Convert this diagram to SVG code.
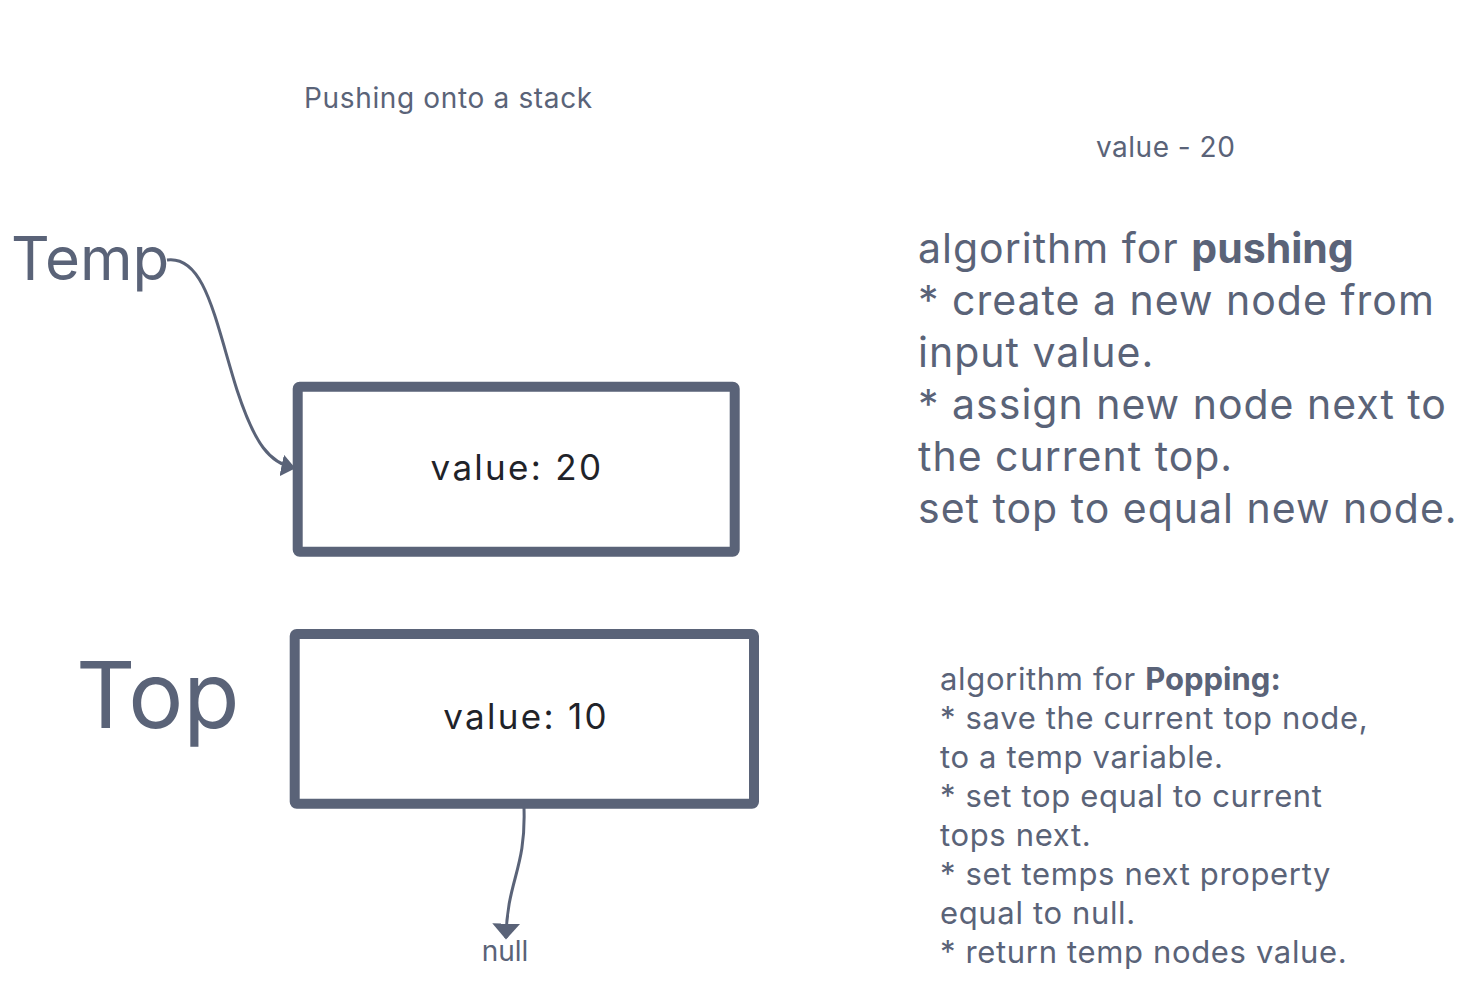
<svg xmlns="http://www.w3.org/2000/svg" width="1482" height="1006" viewBox="0 0 1482 1006">
<defs>
<style>
.t{font-family:Inter,"Noto Sans","Liberation Sans",sans-serif;fill:#5a6378}
.n{font-family:Inter,"Noto Sans","Liberation Sans",sans-serif;fill:#1f2329;font-size:35px;text-anchor:middle;letter-spacing:2.3px}
.box{fill:#fff;stroke:#5a6378;stroke-width:10;stroke-linejoin:round}
.c{fill:none;stroke:#5a6378;stroke-width:3}
.b{font-weight:bold;letter-spacing:0}
</style>
<marker id="ahT" viewBox="0 0 10 10" refX="9" refY="5" markerWidth="14" markerHeight="22" markerUnits="userSpaceOnUse" orient="auto" preserveAspectRatio="none">
<path d="M0,0 L10,5 L0,10 z" fill="#5a6378"/>
</marker>
<marker id="ahN" viewBox="0 0 10 10" refX="9" refY="5" markerWidth="16" markerHeight="28" markerUnits="userSpaceOnUse" orient="auto" preserveAspectRatio="none">
<path d="M0,0 L10,5 L0,10 z" fill="#5a6378"/>
</marker>
</defs>
<rect width="1482" height="1006" fill="#fff"/>
<g id="title"><text class="t" x="304" y="108" font-size="28" letter-spacing="0.65">Pushing onto a stack</text></g>
<g id="value-label"><text class="t" x="1096" y="157" font-size="28" letter-spacing="0.5">value - 20</text></g>
<g id="temp-label"><text class="t" x="11" y="280" font-size="60">Temp</text></g>
<g id="top-label"><text class="t" x="76" y="728" font-size="92">Top</text></g>
<g id="node20"><rect class="box" x="297.7" y="386.7" width="437" height="165" rx="2"/><text class="n" x="517" y="480">value: 20</text></g>
<g id="node10"><rect class="box" x="294.7" y="634" width="459.3" height="169.7" rx="2"/><text class="n" x="526" y="729">value: 10</text></g>
<g id="null-label"><text class="t" x="505" y="961" font-size="28" text-anchor="middle">null</text></g>
<g id="connectors">
<path class="c" d="M167,260 C205,255 215,320 237,390 C255,445 270,463 294,468" marker-end="url(#ahT)"/>
<path class="c" d="M524,808 C526,870 507,880 506,938" marker-end="url(#ahN)"/>
</g>
<g id="push-algo"><text class="t" font-size="41" letter-spacing="1">
<tspan x="918" y="263">algorithm for <tspan class="b">pushing</tspan></tspan>
<tspan x="918" y="315">* create a new node from</tspan>
<tspan x="918" y="367">input value.</tspan>
<tspan x="918" y="419">* assign new node next to</tspan>
<tspan x="918" y="471">the current top.</tspan>
<tspan x="918" y="523">set top to equal new node.</tspan>
</text></g>
<g id="pop-algo"><text class="t" font-size="31" letter-spacing="0.65">
<tspan x="940" y="690">algorithm for <tspan class="b">Popping:</tspan></tspan>
<tspan x="940" y="729">* save the current top node,</tspan>
<tspan x="940" y="768">to a temp variable.</tspan>
<tspan x="940" y="807">* set top equal to current</tspan>
<tspan x="940" y="846">tops next.</tspan>
<tspan x="940" y="885">* set temps next property</tspan>
<tspan x="940" y="924">equal to null.</tspan>
<tspan x="940" y="963">* return temp nodes value.</tspan>
</text></g>
</svg>
